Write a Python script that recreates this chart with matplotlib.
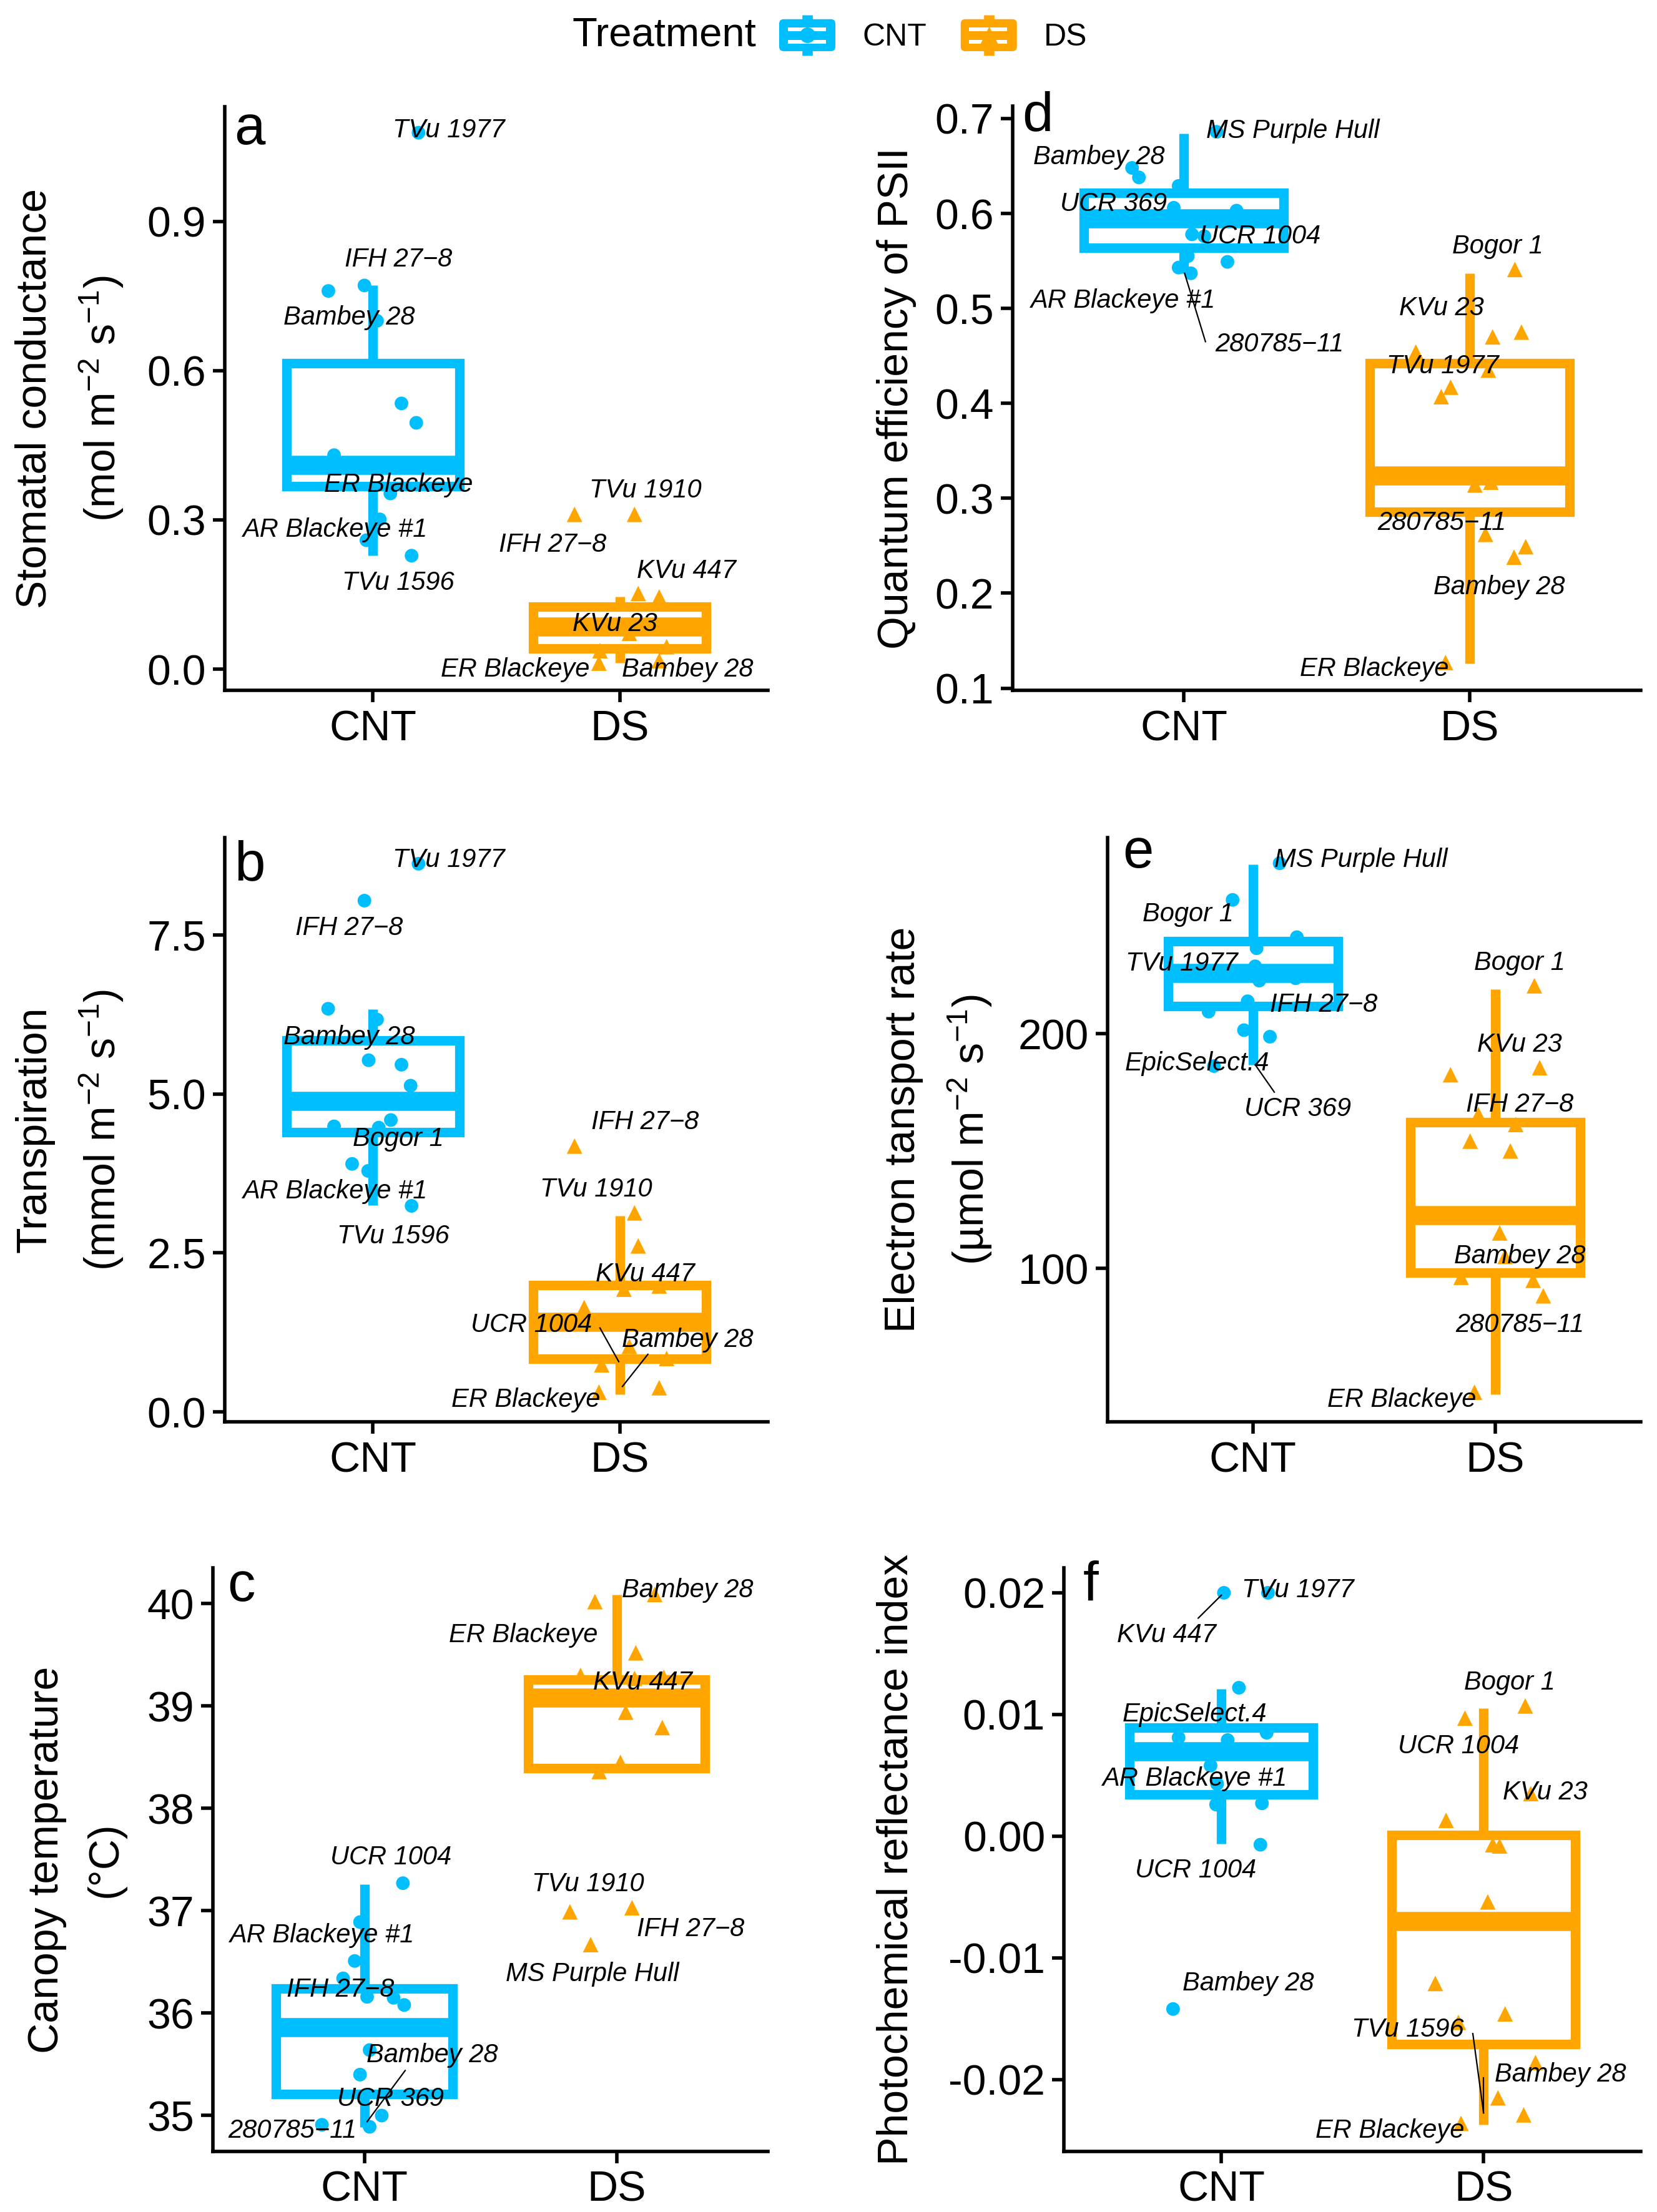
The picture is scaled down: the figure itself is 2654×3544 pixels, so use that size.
import numpy as np
import matplotlib
matplotlib.use("Agg")
import matplotlib.pyplot as plt
from matplotlib import transforms as mtransforms
from matplotlib.legend_handler import HandlerBase
from matplotlib.patches import Rectangle, FancyBboxPatch
from matplotlib.lines import Line2D

plt.rcParams['font.family'] = ['Liberation Sans', 'DejaVu Sans']
plt.rcParams['mathtext.fontset'] = 'custom'
plt.rcParams['mathtext.rm'] = 'Liberation Sans'
plt.rcParams['mathtext.it'] = 'Liberation Sans:italic'
plt.rcParams['mathtext.bf'] = 'Liberation Sans:bold'
plt.rcParams['mathtext.default'] = 'regular'

# ---------------- data ----------------
groups = ["CNT", "DS"]
MINUS = "\u2212"

# box stats: whislo, q1, median, q3, whishi
# panel a: stomatal conductance
a_cnt_y = [1.078, 0.760, 0.771, 0.700, 0.534, 0.495, 0.430, 0.353, 0.301, 0.259, 0.228]
a_cnt_dx = [0.185, -0.18, -0.034, 0.017, 0.116, 0.176, -0.157, 0.071, 0.028, -0.026, 0.157]
a_ds_y = [0.311, 0.311, 0.152, 0.145, 0.072, 0.037, 0.012, 0.017, 0.045]
a_ds_dx = [-0.183, 0.06, 0.075, 0.16, 0.039, -0.08, -0.084, 0.16, 0.19]
a_cnt_box = [0.228, 0.367, 0.410, 0.615, 0.771]
a_ds_box = [0.012, 0.041, 0.085, 0.125, 0.145]
a_lab_text = ["TVu 1977", "IFH 27-8", "Bambey 28", "ER Blackeye", "AR Blackeye #1", "TVu 1596",
              "TVu 1910", "IFH 27-8", "KVu 447", "KVu 23", "ER Blackeye", "Bambey 28"]
a_lab_x = [1.307, 1.103, 0.903, 1.103, 0.845, 1.103, 2.103, 1.727, 2.269, 1.981, 1.576, 2.275]
a_lab_y = [1.082, 0.823, 0.706, 0.370, 0.280, 0.173, 0.359, 0.250, 0.197, 0.090, -0.001, -0.001]
a_seg = []

# panel b: transpiration
b_cnt_y = [8.62, 8.04, 6.34, 6.17, 5.53, 5.46, 5.13, 4.59, 4.49, 4.47, 3.90, 3.79, 3.24]
b_cnt_dx = [0.185, -0.034, -0.181, 0.017, -0.017, 0.116, 0.153, 0.073, -0.157, 0.024, -0.084, -0.019, 0.157]
b_ds_y = [4.18, 3.13, 2.61, 1.93, 1.98, 1.64, 1.03, 0.84, 0.74, 0.31, 0.38]
b_ds_dx = [-0.183, 0.06, 0.075, 0.017, 0.16, -0.144, 0.039, 0.19, -0.073, -0.084, 0.16]
b_cnt_box = [3.25, 4.40, 4.89, 5.84, 6.33]
b_ds_box = [0.28, 0.835, 1.41, 1.99, 3.08]
b_lab_text = ["TVu 1977", "IFH 27-8", "Bambey 28", "Bogor 1", "AR Blackeye #1", "TVu 1596",
              "IFH 27-8", "TVu 1910", "KVu 447", "UCR 1004", "Bambey 28", "ER Blackeye"]
b_lab_x = [1.307, 0.903, 0.903, 1.103, 0.845, 1.082, 2.103, 1.905, 2.103, 1.641, 2.275, 1.619]
b_lab_y = [8.68, 7.61, 5.89, 4.29, 3.47, 2.76, 4.56, 3.50, 2.16, 1.37, 1.13, 0.19]
b_seg = [(1.920, 1.32, 1.996, 0.79), (2.114, 0.905, 2.011, 0.40)]

# panel c: canopy temperature
c_cnt_y = [37.27, 36.89, 36.51, 36.34, 36.16, 36.15, 36.08, 35.64, 35.40, 35.00, 34.91, 34.89]
c_cnt_dx = [0.153, -0.017, -0.038, -0.084, 0.011, 0.116, 0.158, 0.021, -0.017, 0.069, -0.168, 0.021]
c_ds_y = [40.02, 40.09, 39.52, 39.30, 39.27, 39.28, 38.94, 38.79, 38.45, 38.36, 36.99, 37.03, 36.67]
c_ds_dx = [-0.086, 0.151, 0.076, -0.143, 0.071, 0.187, 0.036, 0.181, 0.015, -0.069, -0.185, 0.061, -0.103]
c_cnt_box = [34.89, 35.21, 35.86, 36.24, 37.26]
c_ds_box = [38.36, 38.39, 39.08, 39.26, 40.09]
c_lab_text = ["UCR 1004", "AR Blackeye #1", "IFH 27-8", "Bambey 28", "UCR 369", "280785-11",
              "Bambey 28", "ER Blackeye", "KVu 447", "TVu 1910", "IFH 27-8", "MS Purple Hull"]
c_lab_x = [1.105, 0.832, 0.905, 1.269, 1.105, 0.716, 2.282, 1.630, 2.103, 1.887, 2.292, 1.903]
c_lab_y = [37.52, 36.76, 36.23, 35.59, 35.16, 34.85, 40.13, 39.69, 39.23, 37.26, 36.82, 36.38]
c_seg = [(1.162, 35.44, 1.011, 34.94)]

# panel d: quantum efficiency of PSII
d_cnt_y = [0.686, 0.648, 0.638, 0.629, 0.606, 0.603, 0.578, 0.576, 0.555, 0.549, 0.543, 0.537]
d_cnt_dx = [0.114, -0.182, -0.158, -0.019, -0.036, 0.184, 0.028, 0.071, 0.013, 0.152, -0.019, 0.024]
d_ds_y = [0.541, 0.470, 0.475, 0.454, 0.435, 0.417, 0.407, 0.314, 0.317, 0.262, 0.249, 0.238, 0.127]
d_ds_dx = [0.159, 0.081, 0.182, -0.188, 0.066, -0.066, -0.099, 0.019, 0.075, 0.056, 0.197, 0.156, -0.084]
d_cnt_box = [0.537, 0.564, 0.595, 0.622, 0.684]
d_ds_box = [0.126, 0.286, 0.324, 0.442, 0.537]
d_lab_text = ["MS Purple Hull", "Bambey 28", "UCR 369", "UCR 1004", "AR Blackeye #1", "280785-11",
              "Bogor 1", "KVu 23", "TVu 1977", "280785-11", "Bambey 28", "ER Blackeye"]
d_lab_x = [1.381, 0.702, 0.752, 1.265, 0.784, 1.334, 2.099, 1.902, 1.906, 1.902, 2.103, 1.666]
d_lab_y = [0.687, 0.659, 0.610, 0.576, 0.508, 0.462, 0.565, 0.500, 0.439, 0.274, 0.206, 0.120]
d_seg = [(1.075, 0.465, 1.002, 0.537)]

# panel e: electron transport rate
e_cnt_y = [272.6, 257.0, 241.1, 236.4, 228.7, 222.6, 223.6, 213.8, 209.4, 201.5, 198.7, 186.2]
e_cnt_dx = [0.11, -0.084, 0.181, 0.015, 0.009, 0.026, 0.176, -0.022, -0.183, -0.037, 0.07, -0.161]
e_ds_y = [220.4, 182.5, 185.5, 165.5, 161.3, 154.2, 150.0, 115.1, 105.1, 96.2, 94.9, 88.3, 47.2]
e_ds_dx = [0.161, -0.185, 0.183, -0.07, 0.084, -0.104, 0.062, 0.018, 0.04, -0.141, 0.156, 0.198, -0.086]
e_cnt_box = [186.8, 211.7, 225.8, 239.4, 272.1]
e_ds_box = [46.2, 98.1, 122.6, 162.3, 218.9]
e_lab_text = ["MS Purple Hull", "Bogor 1", "TVu 1977", "IFH 27-8", "EpicSelect.4", "UCR 369",
              "Bogor 1", "KVu 23", "IFH 27-8", "Bambey 28", "280785-11", "ER Blackeye"]
e_lab_x = [1.445, 0.733, 0.707, 1.291, 0.769, 1.185, 2.101, 2.101, 2.101, 2.101, 2.101, 1.615]
e_lab_y = [274.0, 250.9, 229.8, 212.3, 187.2, 167.9, 230.2, 195.3, 169.8, 105.1, 75.8, 43.8]
e_seg = [(1.088, 175.1, 1.009, 186.8)]

# panel f: photochemical reflectance index
f_cnt_y = [0.0200, 0.0200, 0.0122, 0.0085, 0.0081, 0.0079, 0.0058, 0.0043, 0.0026, 0.0027, -0.0007, -0.0142]
f_cnt_dx = [0.010, 0.178, 0.067, 0.173, -0.163, 0.024, -0.041, -0.016, -0.02, 0.155, 0.149, -0.184]
f_ds_y = [0.0107, 0.0097, 0.0035, 0.0013, -0.0008, -0.0007, -0.0054, -0.0121, -0.0146, -0.0153,
          -0.0186, -0.0215, -0.0229, -0.0236]
f_ds_dx = [0.159, -0.071, 0.18, -0.143, 0.061, 0.035, 0.016, -0.184, 0.082, -0.096, 0.198, 0.055, 0.153, -0.086]
f_cnt_box = [-0.0006, 0.00344, 0.00695, 0.0089, 0.0121]
f_ds_box = [-0.0237, -0.0171, -0.0070, 0.0001, 0.0105]
f_lab_text = ["TVu 1977", "KVu 447", "EpicSelect.4", "AR Blackeye #1", "UCR 1004", "Bambey 28",
              "Bogor 1", "UCR 1004", "KVu 23", "TVu 1596", "Bambey 28", "ER Blackeye"]
f_lab_x = [1.292, 0.790, 0.898, 0.898, 0.902, 1.102, 2.098, 1.904, 2.235, 1.710, 2.292, 1.643]
f_lab_y = [0.0202, 0.0165, 0.0100, 0.0047, -0.0028, -0.0121, 0.0126, 0.0074, 0.0036, -0.0159, -0.0196, -0.0242]
f_seg = [(0.912, 0.01792, 1.0, 0.0198), (1.959, -0.01622, 2.0, -0.02274), (2.0, -0.01984, 2.0, -0.02274)]

# axis tick labels
a_ticks = [0.0, 0.3, 0.6, 0.9]; a_ticklabels = ["0.0", "0.3", "0.6", "0.9"]
b_ticks = [0.0, 2.5, 5.0, 7.5]; b_ticklabels = ["0.0", "2.5", "5.0", "7.5"]
c_ticks = [35, 36, 37, 38, 39, 40]; c_ticklabels = ["35", "36", "37", "38", "39", "40"]
d_ticks = [0.1, 0.2, 0.3, 0.4, 0.5, 0.6, 0.7]; d_ticklabels = ["0.1", "0.2", "0.3", "0.4", "0.5", "0.6", "0.7"]
e_ticks = [100, 200]; e_ticklabels = ["100", "200"]
f_ticks = [-0.02, -0.01, 0.0, 0.01, 0.02]; f_ticklabels = ["-0.02", "-0.01", "0.00", "0.01", "0.02"]

# ---------------- style ----------------
BLUE = "#00BFFF"
ORANGE = "#FFA500"
BOX_LW = 5.5
MED_LW = 11
AX_LW = 2.0
TICK_FS = 24.5
TITLE_FS = 24.5
LAB_FS = 15
LETTER_FS = 32
W, H = 2654, 3544
DPI = 200

fig = plt.figure(figsize=(W / DPI, H / DPI), dpi=DPI)


def draw_panel(rect, cnt_y, cnt_dx, ds_y, ds_dx, cnt_box, ds_box, lab_text, lab_x, lab_y, segs,
               ylim, ticks, ticklabels, ylabel, ylab_x, letter, letter_xy):
    ax = fig.add_axes(rect)
    stats = []
    for b in (cnt_box, ds_box):
        stats.append(dict(whislo=b[0], q1=b[1], med=b[2], q3=b[3], whishi=b[4], fliers=[]))
    bp = ax.bxp(stats, positions=[1, 2], widths=0.7, patch_artist=True, showcaps=False,
                showfliers=False,
                boxprops=dict(linewidth=BOX_LW, facecolor="white"),
                medianprops=dict(linewidth=MED_LW, solid_capstyle="butt"),
                whiskerprops=dict(linewidth=BOX_LW, solid_capstyle="butt"))
    for i, col in enumerate((BLUE, ORANGE)):
        bp["boxes"][i].set_edgecolor(col)
        bp["boxes"][i].set_joinstyle("miter")
        bp["medians"][i].set_color(col)
        bp["whiskers"][2 * i].set_color(col)
        bp["whiskers"][2 * i + 1].set_color(col)
    ax.scatter(1 + np.array(cnt_dx), cnt_y, marker="o", s=62, color=BLUE, edgecolors="none", zorder=4)
    ax.scatter(2 + np.array(ds_dx), ds_y, marker="^", s=80, color=ORANGE, edgecolors="none", zorder=4)
    for (x1, y1, x2, y2) in segs:
        ax.plot([x1, x2], [y1, y2], color="black", lw=0.8, zorder=5)
    for t, x, y in zip(lab_text, lab_x, lab_y):
        ax.text(x, y, t.replace("-", MINUS), style="italic", fontsize=LAB_FS, ha="center",
                va="center", zorder=6)
    ax.set_xlim(0.4, 2.6)
    ax.set_ylim(*ylim)
    ax.set_xticks([1, 2])
    ax.set_xticklabels(groups)
    ax.set_yticks(ticks)
    ax.set_yticklabels(ticklabels)
    for s in ("top", "right"):
        ax.spines[s].set_visible(False)
    for s in ("left", "bottom"):
        ax.spines[s].set_linewidth(AX_LW)
    ax.tick_params(axis="both", width=AX_LW, length=6.8, labelsize=TICK_FS, pad=4, color="black")
    ax.set_ylabel(ylabel, fontsize=TITLE_FS, linespacing=1.6)
    tr = mtransforms.blended_transform_factory(fig.transFigure, ax.transAxes)
    ax.yaxis.set_label_coords(ylab_x / W, 0.5, transform=tr)
    fig.text(letter_xy[0] / W, 1 - letter_xy[1] / H, letter, fontsize=LETTER_FS, ha="left",
             va="baseline")
    return ax


draw_panel([0.1356, 0.6879, 0.3278, 0.2638], a_cnt_y, a_cnt_dx, a_ds_y, a_ds_dx, a_cnt_box, a_ds_box,
           a_lab_text, a_lab_x, a_lab_y, a_seg, (-0.0427, 1.130), a_ticks, a_ticklabels,
           "Stomatal conductance\n(mol m$^{-2}$ s$^{-1}$)", 201, "a", (375, 231))
draw_panel([0.1356, 0.3572, 0.3278, 0.2641], b_cnt_y, b_cnt_dx, b_ds_y, b_ds_dx, b_cnt_box, b_ds_box,
           b_lab_text, b_lab_x, b_lab_y, b_seg, (-0.157, 9.03), b_ticks, b_ticklabels,
           "Transpiration\n(mmol m$^{-2}$ s$^{-1}$)", 201, "b", (375, 1410))
draw_panel([0.1285, 0.0274, 0.3350, 0.2638], c_cnt_y, c_cnt_dx, c_ds_y, c_ds_dx, c_cnt_box, c_ds_box,
           c_lab_text, c_lab_x, c_lab_y, c_seg, (34.65, 40.35), c_ticks, c_ticklabels,
           "Canopy temperature\n(\u00b0C)", 201, "c", (364, 2565))
draw_panel([0.6112, 0.6879, 0.3790, 0.2641], d_cnt_y, d_cnt_dx, d_ds_y, d_ds_dx, d_cnt_box, d_ds_box,
           d_lab_text, d_lab_x, d_lab_y, d_seg, (0.0977, 0.713), d_ticks, d_ticklabels,
           "Quantum efficiency of PSII", 1468, "d", (1637, 210))
draw_panel([0.6684, 0.3572, 0.3218, 0.2641], e_cnt_y, e_cnt_dx, e_ds_y, e_ds_dx, e_cnt_box, e_ds_box,
           e_lab_text, e_lab_x, e_lab_y, e_seg, (34.6, 283.5), e_ticks, e_ticklabels,
           "Electron tansport rate\n(\u00b5mol m$^{-2}$ s$^{-1}$)", 1592, "e", (1798, 1390))
draw_panel([0.6421, 0.0274, 0.3482, 0.2638], f_cnt_y, f_cnt_dx, f_ds_y, f_ds_dx, f_cnt_box, f_ds_box,
           f_lab_text, f_lab_x, f_lab_y, f_seg, (-0.0259, 0.02205), f_ticks, f_ticklabels,
           "Photochemical reflectance index", 1468, "f", (1735, 2565))


# ---------------- legend ----------------
class BoxKey(HandlerBase):
    def __init__(self, color, marker, msize):
        super().__init__()
        self.color = color
        self.marker = marker
        self.msize = msize

    def create_artists(self, legend, orig_handle, xdescent, ydescent, width, height, fontsize, trans):
        x0, y0 = -xdescent, -ydescent
        cx = x0 + width / 2
        arts = [Line2D([cx, cx], [y0 - 0.14 * height, y0 + 1.14 * height], color=self.color, lw=6,
                       solid_capstyle="butt", transform=trans),
                FancyBboxPatch((x0, y0), width, height,
                               boxstyle="round,pad=0,rounding_size=%f" % (0.08 * width),
                               facecolor=self.color, edgecolor="none", transform=trans),
                Rectangle((x0 + 0.15 * width, y0 + 0.63 * height), 0.68 * width, 0.11 * height,
                          facecolor="white", edgecolor="none", transform=trans),
                Rectangle((x0 + 0.15 * width, y0 + 0.24 * height), 0.68 * width, 0.12 * height,
                          facecolor="white", edgecolor="none", transform=trans),
                Line2D([cx], [y0 + 0.5 * height], marker=self.marker, markersize=self.msize,
                       linestyle="none", color=self.color, markeredgecolor="none", transform=trans)]
        return arts


h1 = Line2D([], [])
h2 = Line2D([], [])
fig.text(917 / W, 1 - 57 / H, "Treatment", fontsize=23.5, ha="left", va="center")
fig.legend(handles=[h1, h2], labels=groups,
           handler_map={h1: BoxKey(BLUE, "o", 9), h2: BoxKey(ORANGE, "^", 10)},
           loc="center left", bbox_to_anchor=(1248 / W, 1 - 57 / H), ncol=2, frameon=False,
           fontsize=18, handlelength=1.8, handleheight=1.2, handletextpad=0.86,
           columnspacing=1.1, borderpad=0, borderaxespad=0)

fig.savefig("out.png", dpi=DPI)
